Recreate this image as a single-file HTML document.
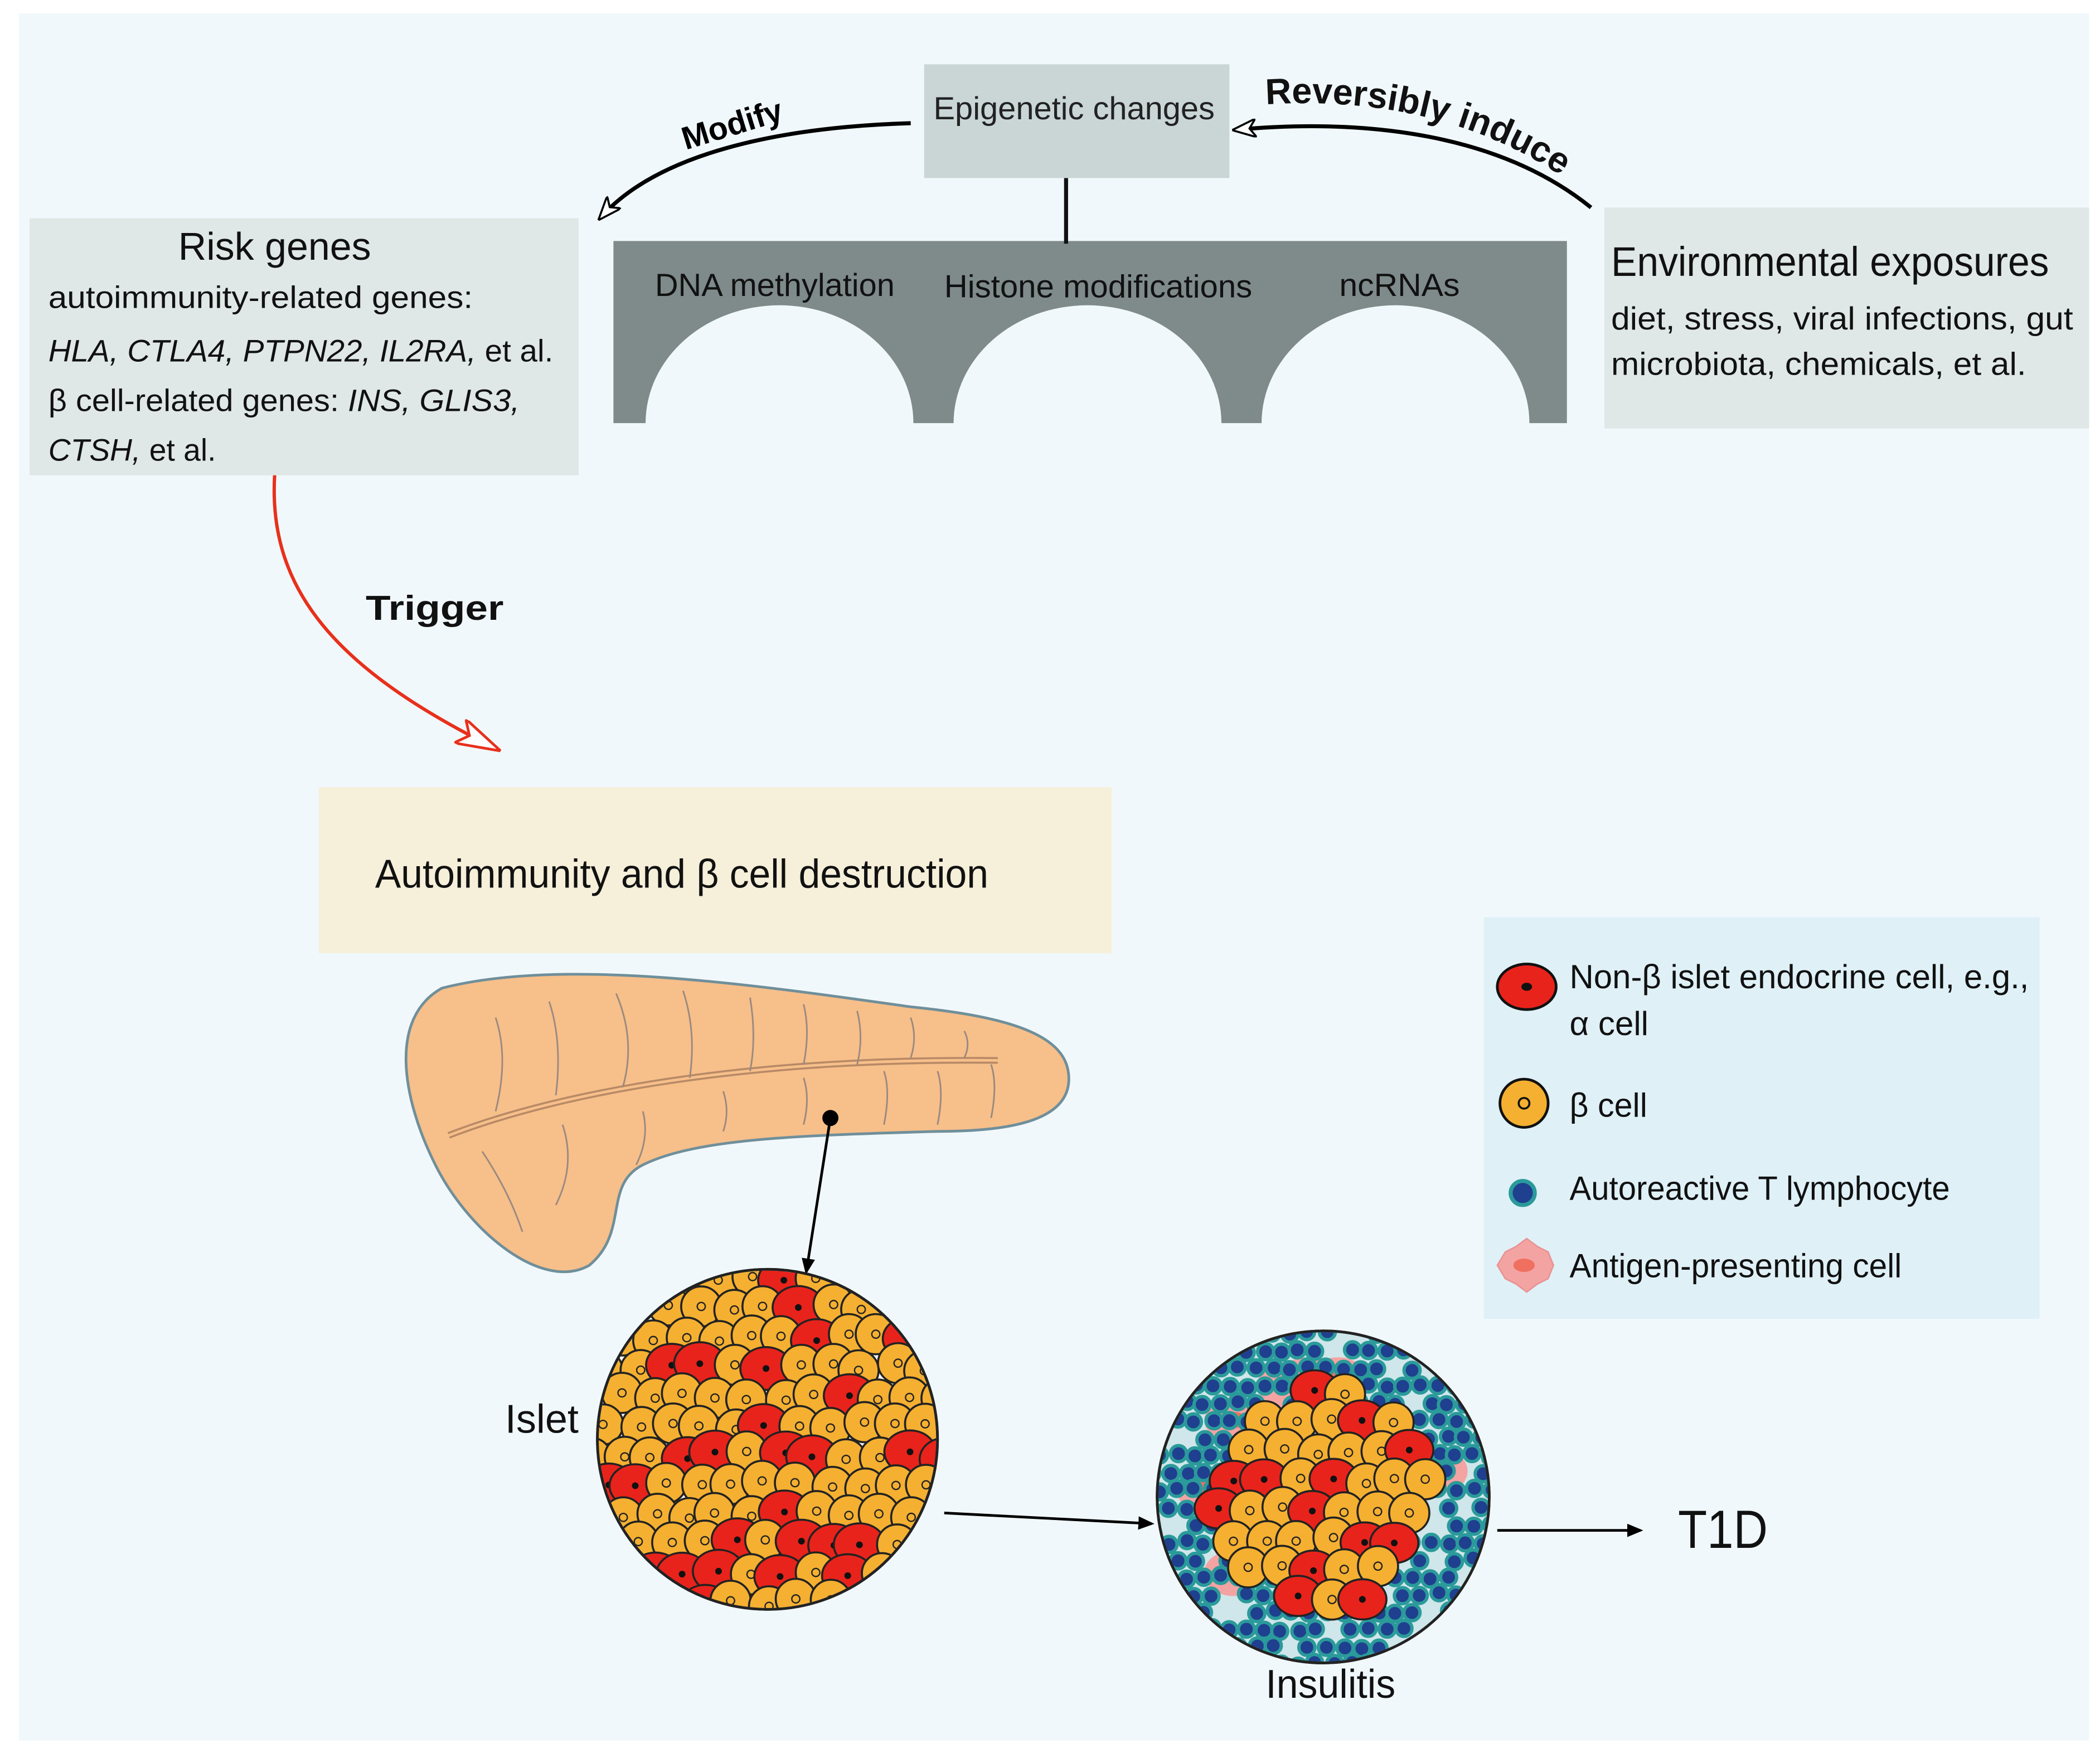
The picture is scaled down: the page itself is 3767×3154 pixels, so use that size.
<!DOCTYPE html>
<html><head><meta charset="utf-8"><style>
html,body{margin:0;padding:0;background:#fff}
svg{display:block}
text{font-family:"Liberation Sans",Arial,sans-serif}
</style></head><body>
<svg id="s" width="3767" height="3154" viewBox="0 0 1568 1313" xmlns="http://www.w3.org/2000/svg">
<defs>
<marker id="ah" markerWidth="12" markerHeight="10" refX="10" refY="5" orient="auto" markerUnits="userSpaceOnUse"><path d="M0,0 L12,5 L0,10 Z" fill="#000"/></marker>
<marker id="ah2" markerWidth="18" markerHeight="14" refX="16" refY="7" orient="auto" markerUnits="userSpaceOnUse"><path d="M0,0 L18,7 L0,14 L5,7 Z" fill="#fff" stroke="#000" stroke-width="1.5"/></marker>
<marker id="ahr" markerWidth="34" markerHeight="20" refX="32" refY="10" orient="auto" markerUnits="userSpaceOnUse"><path d="M0,0 L34,10 L0,20 L8,10 Z" fill="#fff" stroke="#e8301c" stroke-width="2"/></marker>
<clipPath id="c1"><circle cx="573" cy="1075" r="126"/></clipPath>
<clipPath id="c2"><circle cx="988" cy="1118" r="123"/></clipPath>
</defs>
<rect x="0" y="0" width="1568" height="1313" fill="#fff"/>
<rect x="14" y="10" width="1546" height="1290" fill="#f1f8fb"/>

<path d="M458,180 H1170 V316 H1142 A100,88 0 0 0 942,316 H912 A100,88 0 0 0 712,316 H682 A100,88 0 0 0 482,316 H458 Z" fill="#7f8a8a"/>
<line x1="796" y1="133" x2="796" y2="182" stroke="#111" stroke-width="3"/>
<rect x="690" y="48" width="228" height="85" fill="#c9d6d5"/>
<text x="697" y="89" font-size="24" textLength="210" lengthAdjust="spacingAndGlyphs" fill="#222">Epigenetic changes</text>
<text x="489" y="221" font-size="24" textLength="179" lengthAdjust="spacingAndGlyphs" fill="#111">DNA methylation</text>
<text x="705" y="222" font-size="24" textLength="230" lengthAdjust="spacingAndGlyphs" fill="#111">Histone modifications</text>
<text x="1000" y="221" font-size="24" textLength="90" lengthAdjust="spacingAndGlyphs" fill="#111">ncRNAs</text>

<rect x="22" y="163" width="410" height="192" fill="#dfe8e6"/>
<text x="133" y="194" font-size="29" textLength="144" lengthAdjust="spacingAndGlyphs" fill="#111">Risk genes</text>
<text x="36" y="230" font-size="23" textLength="317" lengthAdjust="spacingAndGlyphs" fill="#111">autoimmunity-related genes:</text>
<text x="36" y="270" font-size="23" textLength="377" lengthAdjust="spacingAndGlyphs" fill="#111"><tspan font-style="italic">HLA, CTLA4, PTPN22, IL2RA,</tspan> et al.</text>
<text x="36" y="307" font-size="23" textLength="352" lengthAdjust="spacingAndGlyphs" fill="#111">β cell-related genes:  <tspan font-style="italic">INS, GLIS3,</tspan></text>
<text x="36" y="344" font-size="23" fill="#111"><tspan font-style="italic">CTSH,</tspan> et al.</text>

<rect x="1198" y="155" width="362" height="165" fill="#dfe8e6"/>
<text x="1203" y="206" font-size="31" textLength="327" lengthAdjust="spacingAndGlyphs" fill="#111">Environmental exposures</text>
<text x="1203" y="246" font-size="24" textLength="345" lengthAdjust="spacingAndGlyphs" fill="#111">diet, stress, viral infections, gut</text>
<text x="1203" y="280" font-size="24" textLength="310" lengthAdjust="spacingAndGlyphs" fill="#111">microbiota, chemicals, et al.</text>

<path d="M680,92 C580,95 490,115 448,163" fill="none" stroke="#000" stroke-width="3" marker-end="url(#ah2)"/>
<text x="512" y="112" font-size="24" font-weight="bold" transform="rotate(-17 512 112)">Modify</text>
<path d="M1188,155 C1120,100 1020,88 922,97" fill="none" stroke="#000" stroke-width="3" marker-end="url(#ah2)"/>
<text font-size="27" font-weight="bold" fill="#111"><textPath href="#tp">Reversibly induce</textPath></text>
<path id="tp" d="M945,78 C1040,72 1120,95 1185,145" fill="none"/>

<path d="M205,355 C200,440 250,500 372,560" fill="none" stroke="#e8301c" stroke-width="2.5" marker-end="url(#ahr)"/>
<text x="273" y="463" font-size="26" font-weight="bold" textLength="103" lengthAdjust="spacingAndGlyphs" fill="#111">Trigger</text>

<rect x="238" y="588" width="592" height="124" fill="#f6efd9"/>
<text x="280" y="663" font-size="30" textLength="458" lengthAdjust="spacingAndGlyphs" fill="#111">Autoimmunity and β cell destruction</text>

<path d="M330,738 C420,715 560,735 680,752 C760,760 800,775 798,808 C796,835 760,845 700,845 C600,848 520,850 480,870 C450,885 470,920 440,945 C405,965 350,920 325,870 C300,820 290,760 330,738 Z" fill="#f7bf8a" stroke="#6f8f9a" stroke-width="2"/>
<path d="M335,848 C420,815 560,790 745,792" fill="none" stroke="#b88a66" stroke-width="5"/>
<path d="M335,848 C420,815 560,790 745,792" fill="none" stroke="#f7bf8a" stroke-width="2"/>
<g stroke="#9a8a80" stroke-width="1.2" fill="none">
<path d="M370,760 q10,30 0,70"/><path d="M410,748 q10,30 5,70"/><path d="M460,742 q15,35 5,70"/><path d="M510,740 q10,30 5,65"/><path d="M560,745 q5,30 0,55"/><path d="M600,750 q5,20 0,45"/><path d="M640,755 q5,20 0,40"/><path d="M680,760 q5,15 0,30"/><path d="M720,770 q5,10 0,20"/>
<path d="M360,860 q20,30 30,60"/><path d="M420,840 q10,30 -5,60"/><path d="M480,830 q5,20 -5,40"/><path d="M540,815 q5,15 0,30"/><path d="M600,805 q5,15 0,35"/><path d="M660,800 q5,15 0,40"/><path d="M700,800 q5,15 0,40"/><path d="M740,795 q5,15 0,40"/>
</g>
<circle cx="620" cy="835" r="6" fill="#000"/>
<line x1="620" y1="835" x2="602" y2="950" stroke="#000" stroke-width="2" marker-end="url(#ah)"/>

<circle cx="573" cy="1075" r="127" fill="#fff" stroke="#222" stroke-width="2"/>
<g id="islet" clip-path="url(#c1)"></g>
<circle cx="988" cy="1118" r="124" fill="#cfe6ea" stroke="#222" stroke-width="2"/>
<g id="ins" clip-path="url(#c2)"></g>
<circle cx="573" cy="1075" r="127" fill="none" stroke="#222" stroke-width="2"/>
<circle cx="988" cy="1118" r="124" fill="none" stroke="#222" stroke-width="2"/>
<text x="377" y="1070" font-size="30" textLength="55" lengthAdjust="spacingAndGlyphs" fill="#111">Islet</text>
<text x="945" y="1268" font-size="30" textLength="97" lengthAdjust="spacingAndGlyphs" fill="#111">Insulitis</text>
<line x1="705" y1="1130" x2="860" y2="1138" stroke="#000" stroke-width="2" marker-end="url(#ah)"/>
<line x1="1118" y1="1143" x2="1225" y2="1143" stroke="#000" stroke-width="2" marker-end="url(#ah)"/>
<text x="1253" y="1156" font-size="40" textLength="67" lengthAdjust="spacingAndGlyphs" fill="#111">T1D</text>

<rect x="1108" y="685" width="415" height="300" fill="#dff0f7"/>
<ellipse cx="1140" cy="737" rx="22" ry="17" fill="#e8231c" stroke="#111" stroke-width="2"/>
<ellipse cx="1140" cy="737" rx="4" ry="3" fill="#111"/>
<text x="1172" y="738" font-size="25" textLength="343" lengthAdjust="spacingAndGlyphs" fill="#111">Non-β islet endocrine cell, e.g.,</text>
<text x="1172" y="773" font-size="25" fill="#111">α cell</text>
<circle cx="1138" cy="824" r="18" fill="#f5b031" stroke="#111" stroke-width="2"/>
<circle cx="1138" cy="824" r="4" fill="none" stroke="#111" stroke-width="1.5"/>
<text x="1172" y="834" font-size="25" textLength="58" lengthAdjust="spacingAndGlyphs" fill="#111">β cell</text>
<circle cx="1137" cy="891" r="9" fill="#1f3f8f" stroke="#2a9a9a" stroke-width="3"/>
<text x="1172" y="896" font-size="25" textLength="284" lengthAdjust="spacingAndGlyphs" fill="#111">Autoreactive T lymphocyte</text>
<path d="M1118,945 l6,-10 l8,-4 l8,-6 l8,6 l8,4 l4,10 l-4,10 l-8,4 l-8,6 l-8,-6 l-8,-4 Z" fill="#f4a3a3" stroke="#e89090"/>
<ellipse cx="1138" cy="945" rx="8" ry="5" fill="#f07060"/>
<text x="1172" y="954" font-size="25" textLength="248" lengthAdjust="spacingAndGlyphs" fill="#111">Antigen-presenting cell</text>
</svg>
<script>
(function(){
var NS="http://www.w3.org/2000/svg";
var seed=7;function r(){seed=(seed*16807)%2147483647;return seed/2147483647;}
function el(g,t,a){var e=document.createElementNS(NS,t);for(var k in a)e.setAttribute(k,a[k]);g.appendChild(e);return e;}
function beta(g,x,y,s){el(g,"circle",{cx:x,cy:y,r:s,fill:"#f5b031",stroke:"#222","stroke-width":1.5});el(g,"circle",{cx:x,cy:y,r:3,fill:"none",stroke:"#222","stroke-width":1});}
function alpha(g,x,y,s){el(g,"ellipse",{cx:x,cy:y,rx:s*1.2,ry:s,fill:"#e8231c",stroke:"#222","stroke-width":1.5});el(g,"circle",{cx:x,cy:y,r:2.5,fill:"#111"});}
var g=document.getElementById("islet");
for(var y=955;y<1210;y+=22){for(var x=440;x<710;x+=24){var xx=x+(Math.floor((y-955)/22)%2)*12+(r()-.5)*6,yy=y+(r()-.5)*6;
var dx=xx-573,dy=yy-1075;if(dx*dx+dy*dy>135*135)continue;
if(r()<0.25)alpha(g,xx,yy,16);else beta(g,xx,yy,15);}}
var h=document.getElementById("ins");
for(var i=0;i<7;i++){var a=r()*6.28,d=88;var px=988+Math.cos(a)*d,py=1118+Math.sin(a)*d;el(h,"ellipse",{cx:px,cy:py,rx:22,ry:17,fill:"#f4a3a3"});el(h,"ellipse",{cx:px,cy:py,rx:10,ry:6,fill:"#f07060"});}
for(var y=996;y<1245;y+=13){for(var x=860;x<1115;x+=13){var xx=x+(Math.floor((y-996)/13)%2)*6+(r()-.5)*3,yy=y+(r()-.5)*3;var dx=xx-988,dy=yy-1118,dd=Math.sqrt(dx*dx+dy*dy);
if(dd>70&&dd<130&&r()<0.85){el(h,"circle",{cx:xx,cy:yy,r:6,fill:"#1f3f8f",stroke:"#2a9a9a","stroke-width":2.5});}}}
for(var y=1040;y<1200;y+=22){for(var x=910;x<1070;x+=24){var xx=x+(Math.floor((y-1040)/22)%2)*12+(r()-.5)*5,yy=y+(r()-.5)*5;var dx=xx-988,dy=yy-1118;if(dx*dx+dy*dy>82*82)continue;
if(r()<0.4)alpha(h,xx,yy,15);else beta(h,xx,yy,15);}}
})();
</script>
</body></html>
